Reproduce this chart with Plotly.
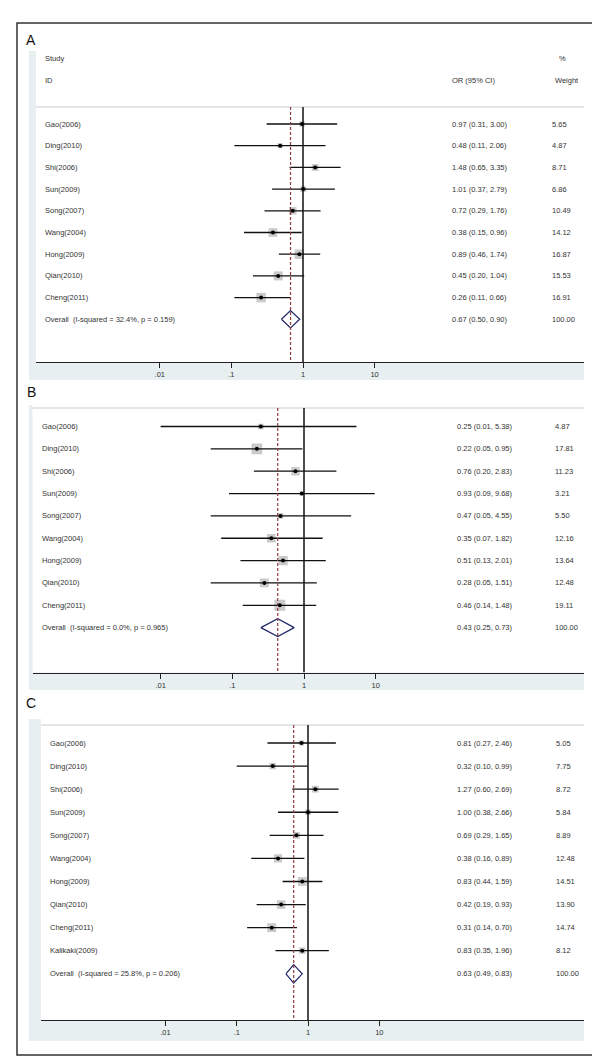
import numpy as np
import plotly.graph_objects as go

# ---------------- data ----------------
studies_A = ["Gao(2006)", "Ding(2010)", "Shi(2006)", "Sun(2009)", "Song(2007)",
             "Wang(2004)", "Hong(2009)", "Qian(2010)", "Cheng(2011)"]
or_A = [0.97, 0.48, 1.48, 1.01, 0.72, 0.38, 0.89, 0.45, 0.26]
lo_A = [0.31, 0.11, 0.65, 0.37, 0.29, 0.15, 0.46, 0.20, 0.11]
hi_A = [3.00, 2.06, 3.35, 2.79, 1.76, 0.96, 1.74, 1.04, 0.66]
wt_A = [5.65, 4.87, 8.71, 6.86, 10.49, 14.12, 16.87, 15.53, 16.91]
overall_A = [0.67, 0.50, 0.90, 100.00]
het_A = "Overall  (I-squared = 32.4%, p = 0.159)"

studies_B = ["Gao(2006)", "Ding(2010)", "Shi(2006)", "Sun(2009)", "Song(2007)",
             "Wang(2004)", "Hong(2009)", "Qian(2010)", "Cheng(2011)"]
or_B = [0.25, 0.22, 0.76, 0.93, 0.47, 0.35, 0.51, 0.28, 0.46]
lo_B = [0.01, 0.05, 0.20, 0.09, 0.05, 0.07, 0.13, 0.05, 0.14]
hi_B = [5.38, 0.95, 2.83, 9.68, 4.55, 1.82, 2.01, 1.51, 1.48]
wt_B = [4.87, 17.81, 11.23, 3.21, 5.50, 12.16, 13.64, 12.48, 19.11]
overall_B = [0.43, 0.25, 0.73, 100.00]
het_B = "Overall  (I-squared = 0.0%, p = 0.965)"

studies_C = ["Gao(2006)", "Ding(2010)", "Shi(2006)", "Sun(2009)", "Song(2007)",
             "Wang(2004)", "Hong(2009)", "Qian(2010)", "Cheng(2011)", "Kalikaki(2009)"]
or_C = [0.81, 0.32, 1.27, 1.00, 0.69, 0.38, 0.83, 0.42, 0.31, 0.83]
lo_C = [0.27, 0.10, 0.60, 0.38, 0.29, 0.16, 0.44, 0.19, 0.14, 0.35]
hi_C = [2.46, 0.99, 2.69, 2.66, 1.65, 0.89, 1.59, 0.93, 0.70, 1.96]
wt_C = [5.05, 7.75, 8.72, 5.84, 8.89, 12.48, 14.51, 13.90, 14.74, 8.12]
overall_C = [0.63, 0.49, 0.83, 100.00]
het_C = "Overall  (I-squared = 25.8%, p = 0.206)"

tick_vals = [0.01, 0.1, 1, 10]
tick_text = [".01", ".1", "1", "10"]
header_left = ["Study", "ID"]
header_or = "OR (95% CI)"
header_wt = ["%", "Weight"]
panel_labels = ["A", "B", "C"]

# ---------------- layout geometry (pixels) ----------------
W, H = 600, 1059
geoms = [
    dict(reg_x0=21, plot_x0=28, x1=576, top=43, axis=354, reg_bot=372, hdr=99,
         row0=116, sp=21.7, one=295, dec=71.6, name_x=35, or_x=442, wt_x=542,
         lab_y=32, box_k=2.3, header=True),
    dict(reg_x0=21, plot_x0=24.5, x1=576, top=397, axis=664.5, reg_bot=682, hdr=400,
         row0=418.5, sp=22.35, one=296, dec=71.7, name_x=31.5, or_x=447, wt_x=545,
         lab_y=384, box_k=2.5, header=False),
    dict(reg_x0=21, plot_x0=33, x1=576, top=711, axis=1012, reg_bot=1033, hdr=717,
         row0=735, sp=23.08, one=300, dec=71.3, name_x=40, or_x=447, wt_x=546,
         lab_y=695, box_k=2.3, header=False),
]
panels = [
    (studies_A, or_A, lo_A, hi_A, wt_A, overall_A, het_A),
    (studies_B, or_B, lo_B, hi_B, wt_B, overall_B, het_B),
    (studies_C, or_C, lo_C, hi_C, wt_C, overall_C, het_C),
]

FONT = "Arial, Liberation Sans, sans-serif"
TXT = "#333333"
BLUE = "#E7EFF1"
NAVY = "#1F2666"
MAROON = "#8E3A3F"

fig = go.Figure()
shapes = []
annotations = []
layout_axes = {}

def py(px):
    return 1 - px / H

for i, (g, (names, est, lo, hi, wt, ov, het)) in enumerate(zip(geoms, panels)):
    s = "" if i == 0 else str(i + 1)
    xa, ya = "x" + s, "y" + s
    xname, yname = "xaxis" + s, "yaxis" + s

    hdr_row = (g["hdr"] - g["row0"]) / g["sp"]
    axis_row = (g["axis"] - g["row0"]) / g["sp"]
    top_row = (g["top"] - g["row0"]) / g["sp"]
    n = len(names)
    ov_row = n

    layout_axes[xname] = dict(
        domain=[g["plot_x0"] / W, g["x1"] / W], anchor=ya, type="log",
        range=[(g["plot_x0"] - g["one"]) / g["dec"], (g["x1"] - g["one"]) / g["dec"]],
        tickvals=tick_vals, ticktext=tick_text, ticks="outside", ticklen=5,
        tickwidth=1, tickcolor="#222", showline=True, linecolor="#222", linewidth=1.3,
        showgrid=False, zeroline=False, mirror=False,
        tickfont=dict(family=FONT, size=7.5, color=TXT),
    )
    layout_axes[yname] = dict(
        domain=[py(g["axis"]), py(g["top"])], anchor=xa,
        range=[axis_row, top_row], visible=False, showgrid=False, zeroline=False,
    )

    # background graph region + white plot region
    shapes.append(dict(type="rect", xref="paper", yref="paper", layer="below",
                       x0=g["reg_x0"] / W, x1=g["x1"] / W, y0=py(g["reg_bot"]), y1=py(g["top"]),
                       fillcolor=BLUE, line=dict(width=0)))
    shapes.append(dict(type="rect", xref="paper", yref="paper", layer="below",
                       x0=g["plot_x0"] / W, x1=g["x1"] / W, y0=py(g["axis"]), y1=py(g["top"]),
                       fillcolor="white", line=dict(width=0)))
    shapes.append(dict(type="line", xref="paper", yref="paper", layer="below",
                       x0=g["plot_x0"] / W, x1=g["x1"] / W, y0=py(g["hdr"]), y1=py(g["hdr"]),
                       line=dict(color="#C9CCCE", width=1.2)))

    rows = list(range(n))
    # boxes
    fig.add_trace(go.Scatter(
        x=est, y=rows, mode="markers", xaxis=xa, yaxis=ya, hoverinfo="skip",
        marker=dict(symbol="square", size=[g["box_k"] * np.sqrt(w) for w in wt],
                    color="#B3B3B3", line=dict(width=0)), showlegend=False))
    # CI lines
    cx, cy = [], []
    for r, a, b in zip(rows, lo, hi):
        cx += [a, b, None]
        cy += [r, r, None]
    fig.add_trace(go.Scatter(x=cx, y=cy, mode="lines", xaxis=xa, yaxis=ya,
                             line=dict(color="#111", width=1.3), hoverinfo="skip",
                             showlegend=False))
    # diamond
    fig.add_trace(go.Scatter(
        x=[ov[1], ov[0], ov[2], ov[0], ov[1]],
        y=[ov_row, ov_row - 0.4, ov_row, ov_row + 0.4, ov_row],
        mode="lines", fill="toself", fillcolor="white", xaxis=xa, yaxis=ya,
        line=dict(color=NAVY, width=1.2), hoverinfo="skip", showlegend=False))
    # overall dashed line
    fig.add_trace(go.Scatter(x=[ov[0], ov[0]], y=[hdr_row, axis_row], mode="lines",
                             xaxis=xa, yaxis=ya, hoverinfo="skip", showlegend=False,
                             line=dict(color=MAROON, width=1.2, dash="3px,2px")))
    # null line at 1
    fig.add_trace(go.Scatter(x=[1, 1], y=[hdr_row, axis_row], mode="lines",
                             xaxis=xa, yaxis=ya, hoverinfo="skip", showlegend=False,
                             line=dict(color="#111", width=1.5)))
    # point estimates
    fig.add_trace(go.Scatter(x=est, y=rows, mode="markers", xaxis=xa, yaxis=ya,
                             marker=dict(symbol="circle", size=4, color="#000"),
                             hoverinfo="skip", showlegend=False))

    # text columns
    labels = names + [het]
    ors = [f"{e:.2f} ({a:.2f}, {b:.2f})" for e, a, b in zip(est, lo, hi)] + \
          [f"{ov[0]:.2f} ({ov[1]:.2f}, {ov[2]:.2f})"]
    wts = [f"{w:.2f}" for w in wt] + [f"{ov[3]:.2f}"]
    for r, (lab, o, w) in enumerate(zip(labels, ors, wts)):
        for txt, xp in ((lab, g["name_x"]), (o, g["or_x"]), (w, g["wt_x"])):
            annotations.append(dict(text=txt, x=xp / W, y=r, xref="paper", yref=ya,
                                    xanchor="left", yanchor="middle", showarrow=False,
                                    font=dict(family=FONT, size=7.5, color=TXT)))
    if g["header"]:
        for k, (hl, hw) in enumerate(zip(header_left, header_wt)):
            r = -3 + k
            annotations.append(dict(text=hl, x=g["name_x"] / W, y=r, xref="paper", yref=ya,
                                    xanchor="left", yanchor="middle", showarrow=False,
                                    font=dict(family=FONT, size=7.5, color=TXT)))
            annotations.append(dict(text=hw, x=(g["wt_x"] + (7 if k == 0 else 3)) / W, y=r,
                                    xref="paper", yref=ya, xanchor="left", yanchor="middle",
                                    showarrow=False,
                                    font=dict(family=FONT, size=7.5, color=TXT)))
        annotations.append(dict(text=header_or, x=g["or_x"] / W, y=-2, xref="paper", yref=ya,
                                xanchor="left", yanchor="middle", showarrow=False,
                                font=dict(family=FONT, size=7.5, color=TXT)))
    # panel letter
    annotations.append(dict(text=panel_labels[i], x=23 / W, y=py(g["lab_y"]), xref="paper",
                            yref="paper", xanchor="center", yanchor="middle", showarrow=False,
                            font=dict(family="Liberation Sans, Arial", size=14, color="#111")))

# outer border
shapes.append(dict(type="rect", xref="paper", yref="paper", layer="above",
                   x0=9 / W, x1=589 / W, y0=py(1047), y1=py(15),
                   line=dict(color="#333", width=1.5), fillcolor="rgba(0,0,0,0)"))

fig.update_layout(
    width=W, height=H, margin=dict(l=0, r=0, t=0, b=0),
    paper_bgcolor="white", plot_bgcolor="white", showlegend=False,
    shapes=shapes, annotations=annotations, **layout_axes,
)
fig.write_html("out.html")
